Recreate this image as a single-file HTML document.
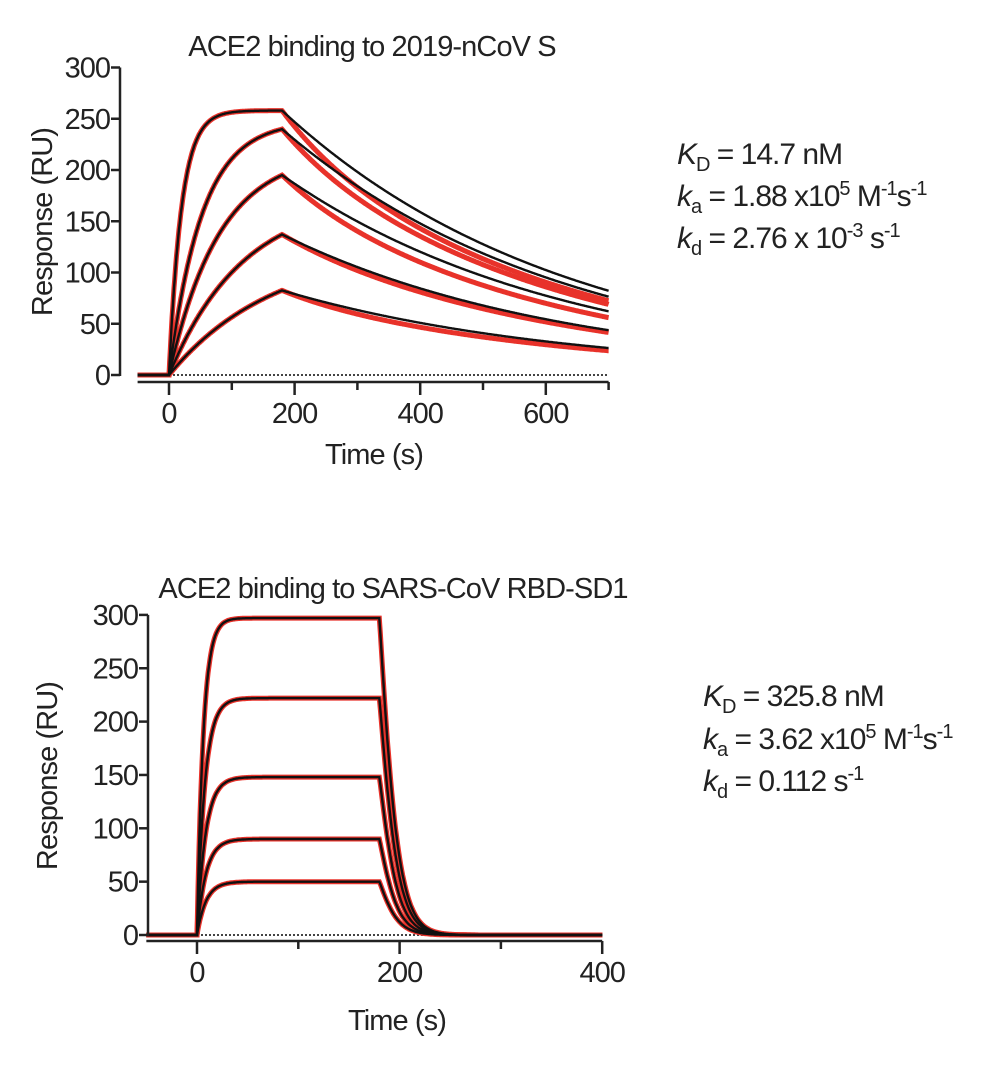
<!DOCTYPE html>
<html><head><meta charset="utf-8"><style>
body{margin:0;background:#fff;width:1000px;height:1066px;overflow:hidden}
svg{font-family:"Liberation Sans",sans-serif}
</style></head><body>
<svg id="s" width="1000" height="1066" xmlns="http://www.w3.org/2000/svg">
<g font-size="29" fill="#222" letter-spacing="-0.9">
<text x="372" y="56" text-anchor="middle">ACE2 binding to 2019-nCoV S</text>
<text x="393" y="598" text-anchor="middle">ACE2 binding to SARS-CoV RBD-SD1</text>
<text x="374" y="464" text-anchor="middle">Time (s)</text>
<text x="397" y="1030" text-anchor="middle">Time (s)</text>
<text transform="translate(52,222) rotate(-90)" text-anchor="middle">Response (RU)</text>
<text transform="translate(57,776) rotate(-90)" text-anchor="middle">Response (RU)</text>
</g>
<g font-size="30" fill="#222" letter-spacing="-1">
<text x="677" y="164"><tspan font-style="italic">K</tspan><tspan font-size="20" dy="7">D</tspan><tspan dy="-7"> = 14.7 nM</tspan></text>
<text x="677" y="206"><tspan font-style="italic">k</tspan><tspan font-size="20" dy="7">a</tspan><tspan dy="-7"> = 1.88 x10</tspan><tspan font-size="20" dy="-11">5</tspan><tspan dy="11"> M</tspan><tspan font-size="20" dy="-11">-1</tspan><tspan dy="11">s</tspan><tspan font-size="20" dy="-11">-1</tspan></text>
<text x="677" y="248"><tspan font-style="italic">k</tspan><tspan font-size="20" dy="7">d</tspan><tspan dy="-7"> = 2.76 x 10</tspan><tspan font-size="20" dy="-11">-3</tspan><tspan dy="11"> s</tspan><tspan font-size="20" dy="-11">-1</tspan></text>
<text x="703" y="706"><tspan font-style="italic">K</tspan><tspan font-size="20" dy="7">D</tspan><tspan dy="-7"> = 325.8 nM</tspan></text>
<text x="703" y="749"><tspan font-style="italic">k</tspan><tspan font-size="20" dy="7">a</tspan><tspan dy="-7"> = 3.62 x10</tspan><tspan font-size="20" dy="-11">5</tspan><tspan dy="11"> M</tspan><tspan font-size="20" dy="-11">-1</tspan><tspan dy="11">s</tspan><tspan font-size="20" dy="-11">-1</tspan></text>
<text x="703" y="791"><tspan font-style="italic">k</tspan><tspan font-size="20" dy="7">d</tspan><tspan dy="-7"> = 0.112 s</tspan><tspan font-size="20" dy="-11">-1</tspan></text>
</g>
<g id="g"></g>
</svg>
<script>
var g=document.getElementById('g'),h='';
function ax(o){
 var X=t=>o.x0+t*o.sx, Y=r=>o.y0-r*o.sy;
 h+=`<line x1="${X(0)}" y1="${Y(0)}" x2="${X(o.tmax)}" y2="${Y(0)}" stroke="#444" stroke-width="2" stroke-dasharray="2,2"/>`;
 o.c.forEach(c=>{
  var pr='',pb='';
  for(var t=-50;t<=o.tmax;t+=1){
   var r,f=1;
   if(t<0)r=0;else if(t<=180)r=c.R*(1-Math.exp(-c.k*t));else{var d=t-180;r=c.R*(1-Math.exp(-c.k*180))*(o.lag?(1+o.lag*d)*Math.exp(-o.kd*d):Math.exp(-o.kd*d));f=1-(1-c.rf)*(1-Math.exp(-d/120));}
   pr+=(t==-50?'M':'L')+X(t).toFixed(1)+','+Y(r*f).toFixed(1);
   pb+=(t==-50?'M':'L')+X(t).toFixed(1)+','+Y(r).toFixed(1);
  }
  h+=`<path d="${pr}" fill="none" stroke="#e8322a" stroke-width="5"/>`;
  c.pb=pb;
 });
 o.c.forEach(c=>{h+=`<path d="${c.pb}" fill="none" stroke="#111" stroke-width="2.4"/>`;});
 h+=`<line x1="${o.ax}" y1="${Y(0)+1}" x2="${o.ax}" y2="${Y(300)}" stroke="#222" stroke-width="2.5"/>`;
 h+=`<line x1="${X(-50)}" y1="${o.xa}" x2="${X(o.tmax)}" y2="${o.xa}" stroke="#222" stroke-width="2.5"/>`;
 for(var v=0;v<=300;v+=50){h+=`<line x1="${o.ax-9}" y1="${Y(v)}" x2="${o.ax}" y2="${Y(v)}" stroke="#222" stroke-width="2.5"/><text x="${o.ax-10}" y="${Y(v)+10}" text-anchor="end" font-size="29" letter-spacing="-1" fill="#222">${v}</text>`;}
 for(var t=0;t<=o.tmax;t+=100){var big=t%o.lab==0;h+=`<line x1="${X(t)}" y1="${o.xa}" x2="${X(t)}" y2="${o.xa+(big?13:8)}" stroke="#222" stroke-width="2.5"/>`;if(big)h+=`<text x="${X(t)}" y="${o.xa+41}" text-anchor="middle" font-size="29" letter-spacing="-1" fill="#222">${t}</text>`;}
}
ax({x0:169,sx:0.628,y0:375,sy:1.025,tmax:700,kd:0.0022,ax:120,xa:382,lab:200,
 c:[{R:258,k:0.05,rf:0.88},{R:248,k:0.019,rf:0.9},{R:218,k:0.0125,rf:0.9},{R:175,k:0.0085,rf:0.95},{R:125,k:0.006,rf:0.9}]});
ax({x0:197,sx:1.013,y0:935,sy:1.067,tmax:400,kd:0.11,lag:0.06,ax:148,xa:941,lab:200,
 c:[{R:297,k:0.16,rf:1},{R:222,k:0.13,rf:1},{R:148,k:0.12,rf:1},{R:90,k:0.115,rf:1},{R:50,k:0.113,rf:1}]});
g.innerHTML=h;
</script>
</body></html>
